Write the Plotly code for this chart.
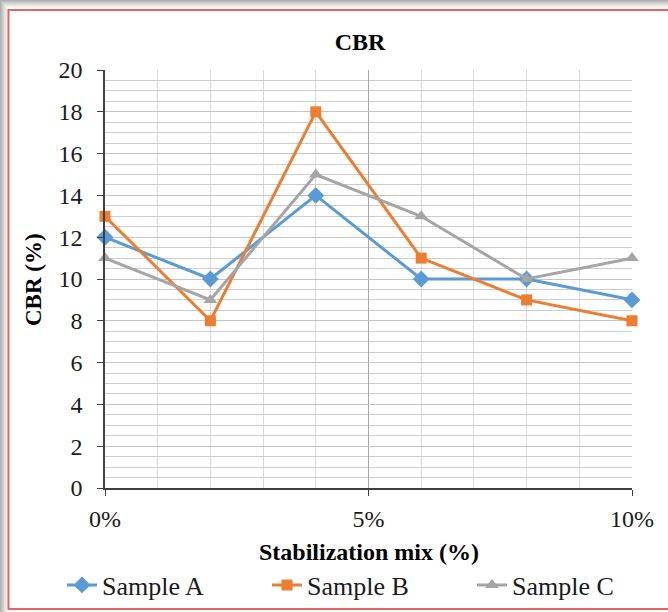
import plotly.graph_objects as go

mix_pct = [0, 2, 4, 6, 8, 10]
sample_a = [12, 10, 14, 10, 10, 9]
sample_b = [13, 8, 18, 11, 9, 8]
sample_c = [11, 9, 15, 13, 10, 11]
x_tick_vals = [0, 5, 10]
x_tick_text = ["0%", "5%", "10%"]
series_names = ["Sample A", "Sample B", "Sample C"]

W, H = 668, 612
L, R, T, B = 105, 632, 70, 488
PW, PH = R - L, B - T

def px(x):
    return (x - L) / PW

def py(y):
    return (B - y) / PH

FONT = "Liberation Serif, Times New Roman, serif"

fig = go.Figure()
styles = [
    ("#5B9BD5", "diamond", 13),
    ("#ED7D31", "square", 11),
    ("#A5A5A5", "triangle-up", 12),
]
for name, ys, (col, sym, sz) in zip(series_names, [sample_a, sample_b, sample_c], styles):
    fig.add_trace(go.Scatter(
        x=mix_pct, y=ys, name=name, mode="lines+markers",
        line=dict(color=col, width=3),
        marker=dict(symbol=sym, size=sz, color=col),
        cliponaxis=False,
    ))

shapes = []
# drop shadow (left and top)
for i, c in enumerate(["#b0b0b0", "#bdbdbd", "#c9c9c9", "#d4d4d4", "#dedede", "#e8e8e8", "#f0f0f0", "#f6f6f6"]):
    shapes.append(dict(type="rect", xref="paper", yref="paper",
                       x0=px(i), x1=px(i + 1), y0=py(612), y1=py(i),
                       line=dict(width=0), fillcolor=c, layer="below"))
    shapes.append(dict(type="rect", xref="paper", yref="paper",
                       x0=px(i), x1=px(668), y0=py(i + 1), y1=py(i),
                       line=dict(width=0), fillcolor=c, layer="below"))
# red frame
shapes.append(dict(type="rect", xref="paper", yref="paper",
                   x0=px(8.5), x1=px(700), y0=py(609), y1=py(10),
                   line=dict(color="#E06666", width=2), fillcolor="white", layer="below"))

fig.update_layout(
    width=W, height=H,
    margin=dict(l=L, r=W - R, t=T, b=H - B, autoexpand=False),
    paper_bgcolor="white", plot_bgcolor="white",
    shapes=shapes,
    showlegend=True,
    legend=dict(orientation="h", x=px(62), xanchor="left", y=py(585), yanchor="middle",
                font=dict(family=FONT, size=26, color="#1a1a1a"),
                entrywidth=160, entrywidthmode="pixels",
                tracegroupgap=0, bgcolor="rgba(0,0,0,0)"),
    title=dict(text="<b>CBR</b>", x=360 / W, xanchor="center", y=1 - 42 / H, yanchor="middle",
               font=dict(family=FONT, size=24, color="black")),
    font=dict(family=FONT, color="black"),
)

fig.update_xaxes(
    range=[0, 10], tickvals=x_tick_vals, ticktext=x_tick_text,
    showgrid=True, gridcolor="#A6A6A6", gridwidth=1,
    minor=dict(dtick=1, showgrid=True, gridcolor="#D9D9D9", gridwidth=1),
    showline=True, linecolor="#404040", linewidth=1.5,
    ticks="outside", ticklen=6, tickcolor="#404040",
    ticklabelstandoff=2, automargin=False,
    tickfont=dict(family=FONT, size=24, color="#1a1a1a"),
    zeroline=False, mirror=False,
)
fig.update_yaxes(
    range=[0, 20], dtick=2,
    showgrid=True, gridcolor="#C4C4C4", gridwidth=1,
    minor=dict(dtick=0.5, showgrid=True, gridcolor="#CCCCCC", gridwidth=1),
    showline=True, linecolor="#404040", linewidth=1.5,
    ticks="outside", ticklen=6, tickcolor="#404040",
    ticklabelstandoff=10, automargin=False,
    tickfont=dict(family=FONT, size=24, color="#1a1a1a"),
    zeroline=False,
)

fig.add_annotation(text="<b>Stabilization mix (%)</b>", xref="paper", yref="paper",
                   x=px(369), y=py(552), xanchor="center", yanchor="middle", showarrow=False,
                   font=dict(family=FONT, size=24, color="black"))
fig.add_annotation(text="<b>CBR (%)</b>", xref="paper", yref="paper",
                   x=px(33), y=py(280), xanchor="center", yanchor="middle", showarrow=False,
                   textangle=-90, font=dict(family=FONT, size=23, color="black"))

fig.write_html("out.html")
